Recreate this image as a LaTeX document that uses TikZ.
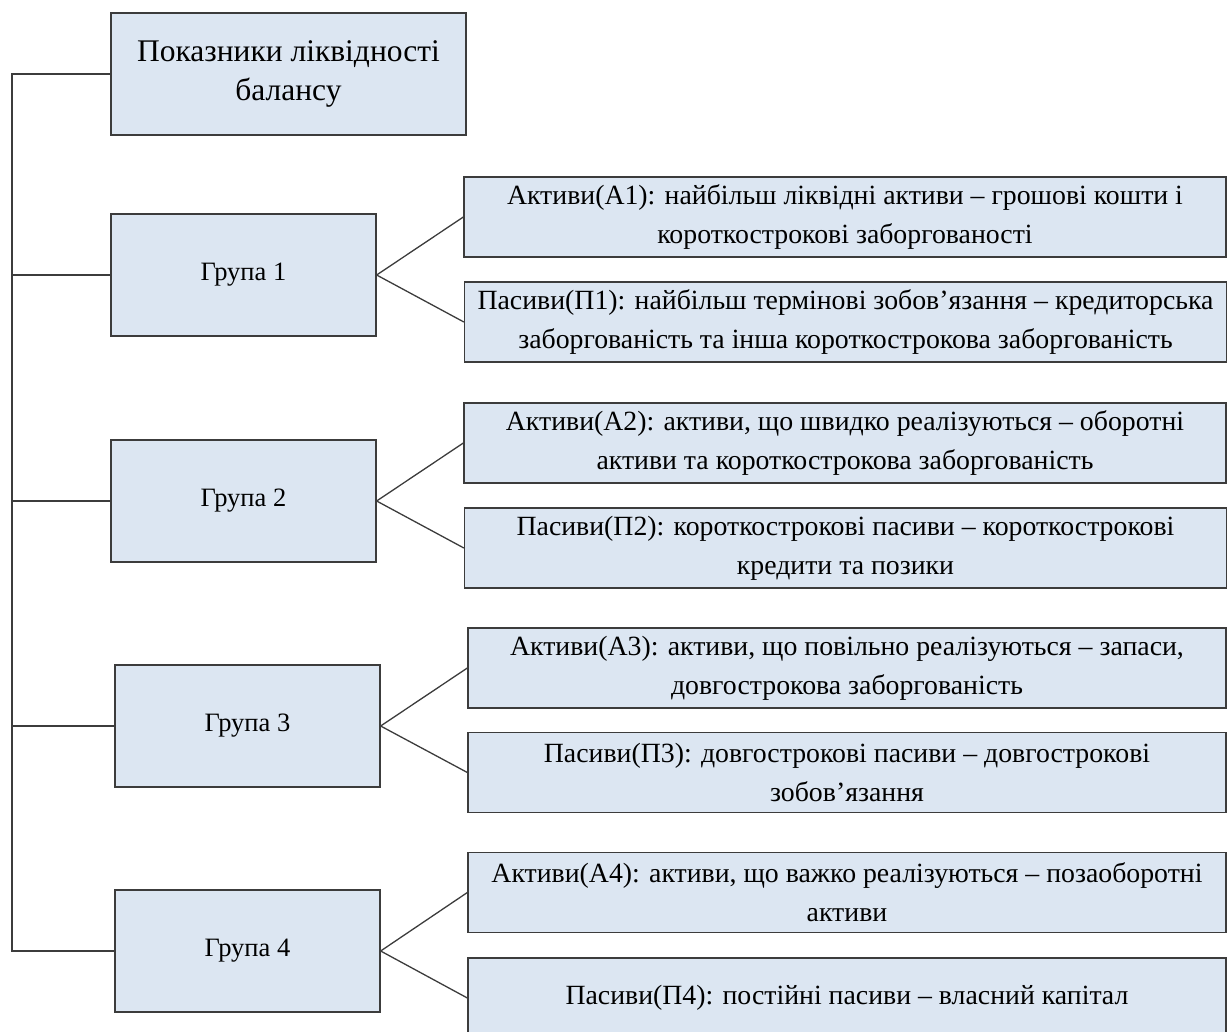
\documentclass[tikz,border=0pt]{standalone}
\usepackage{fontspec}
\setmainfont{Liberation Serif}
\usepackage{xcolor}
\usepackage{tikz}
\usetikzlibrary{positioning}
\definecolor{boxfill}{HTML}{DCE6F2}
\definecolor{boxline}{HTML}{3C3C3C}
\tikzset{
  box/.style={draw=boxline,fill=boxfill,line width=1.3pt,align=center,inner sep=0pt},
  head/.style={box,minimum width=355pt,minimum height=122pt,font=\fontsize{31.5}{39}\selectfont},
  grp/.style={box,minimum width=265pt,minimum height=122pt,font=\fontsize{26.5}{30}\selectfont},
  item/.style={box,minimum width=762pt,minimum height=80pt,font=\fontsize{27.8}{39}\selectfont},
  ln/.style={draw=boxline,line width=1.3pt},
}

\begin{document}
\begin{tikzpicture}[x=1pt,y=-1pt]
\useasboundingbox (0,0) rectangle (1227,1032);
\node[head] (title) at (288.5,74) {Показники ліквідності\\балансу};
\foreach \i/\x/\y in {1/243.5/275,2/243.5/501,3/247.5/726,4/247.5/951}
  \node[grp] (g\i) at (\x,\y) {Група \i};
% activy / pasyvy
\node[item] (a1) at (845,217) {Активи(А1): найбільш ліквідні активи – грошові кошти і\\короткострокові заборгованості};
\node[item] (p1) at (845.5,322) {Пасиви(П1): найбільш термінові зобов’язання – кредиторська\\заборгованість та інша короткострокова заборгованість};
\node[item] (a2) at (845,443) {Активи(А2): активи, що швидко реалізуються – оборотні\\активи та короткострокова заборгованість};
\node[item] (p2) at (845.5,548) {Пасиви(П2): короткострокові пасиви – короткострокові\\кредити та позики};
\node[item,minimum width=758pt] (a3) at (847,668) {Активи(А3): активи, що повільно реалізуються – запаси,\\довгострокова заборгованість};
\node[item,minimum width=758pt] (p3) at (847,772.5) {Пасиви(П3): довгострокові пасиви – довгострокові\\зобов’язання};
\node[item,minimum width=758pt] (a4) at (847,892.5) {Активи(А4): активи, що важко реалізуються – позаоборотні\\активи};
\node[item,minimum width=758pt] (p4) at (847,998) {Пасиви(П4): постійні пасиви – власний капітал};
% spine
\coordinate (sp) at (12,74);
\draw[ln] (title.west) -- (sp) |- (g4.west);
\foreach \i in {1,2,3}
  \draw[ln] (sp |- g\i.west) -- (g\i.west);
\foreach \i in {1,...,4}
  \draw[ln] (a\i.west) -- (g\i.east) -- (p\i.west);
\end{tikzpicture}
\end{document}
